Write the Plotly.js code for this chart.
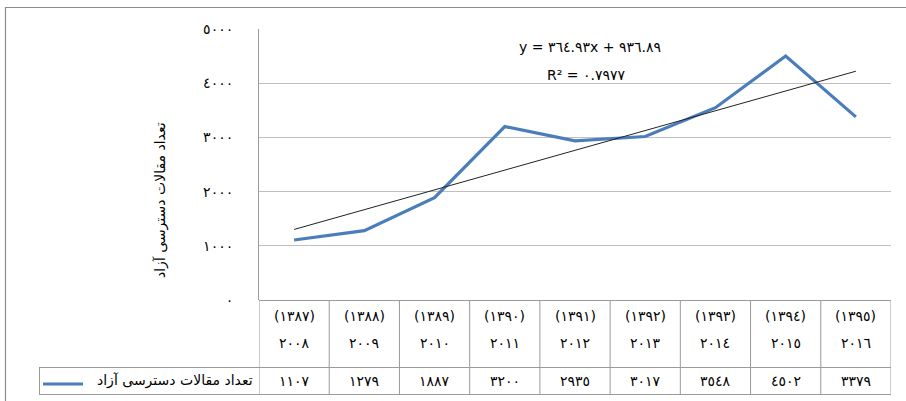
<!DOCTYPE html>
<html>
<head>
<meta charset="utf-8">
<script src="https://cdn.plot.ly/plotly-3.0.1.min.js"></script>
<style>
  html, body { margin: 0; padding: 0; background: #ffffff; }
  #chart { width: 906px; height: 401px; }
</style>
</head>
<body>
<div id="chart"></div>
<script>
// ---- data ----
var gregorianYears = ['2008', '2009', '2010', '2011', '2012', '2013', '2014', '2015', '2016'];
var persianYears = ['1387', '1388', '1389', '1390', '1391', '1392', '1393', '1394', '1395'];
var articleCounts = [1107, 1279, 1887, 3200, 2935, 3017, 3548, 4502, 3379];
var seriesName = 'تعداد مقالات دسترسی آزاد';
var yTickValues = [0, 1000, 2000, 3000, 4000, 5000];
var trendSlope = 364.93;
var trendIntercept = 936.89;
var rSquared = 0.7977;

// ---- helpers ----
function toArabicDigits(s) {
  var d = ['٠','١','٢','٣','٤','٥','٦','٧','٨','٩'];
  return String(s).replace(/[0-9]/g, function (c) { return d[+c]; });
}
var W = 906, H = 401;
var M = { l: 259, r: 15, t: 29, b: 101 };
var PW = W - M.l - M.r, PH = H - M.t - M.b;
function px(xp) { return (xp - M.l) / PW; }
function py(yp) { return (H - M.b - yp) / PH; }

var n = articleCounts.length;
var xIdx = articleCounts.map(function (_, i) { return i + 1; });

var FONT = 'DejaVu Sans, sans-serif';
var lineCol = '#4A7EBB';
var gridCol = '#bfbfbf';
var tableCol = '#9a9a9a';

var traces = [
  {
    x: xIdx, y: articleCounts, type: 'scatter', mode: 'lines',
    line: { color: lineCol, width: 3.2 }, hoverinfo: 'y', showlegend: false
  },
  {
    x: [1, n], y: [trendSlope * 1 + trendIntercept, trendSlope * n + trendIntercept],
    type: 'scatter', mode: 'lines',
    line: { color: '#222222', width: 1 }, hoverinfo: 'skip', showlegend: false
  }
];

var shapes = [];
var annotations = [];

function ann(o) {
  var base = { showarrow: false, xanchor: 'center', yanchor: 'middle',
    font: { family: FONT, size: 14, color: '#000' } };
  for (var k in o) base[k] = o[k];
  return base;
}

// outer frame
shapes.push({ type: 'rect', xref: 'paper', yref: 'paper',
  x0: px(5.5), x1: px(920), y0: py(415), y1: py(7.5),
  line: { color: '#8c8c8c', width: 1.2 }, fillcolor: 'rgba(0,0,0,0)', layer: 'below' });

// table: vertical column lines
for (var i = 0; i <= n; i++) {
  shapes.push({ type: 'line', xref: 'x', yref: 'paper',
    x0: i + 0.5, x1: i + 0.5, y0: py(300), y1: py(394.5),
    line: { color: tableCol, width: 1 } });
}
// table horizontal lines
[300.5, 367.5, 394.5].forEach(function (yy, k) {
  shapes.push({ type: 'line', xref: 'paper', yref: 'paper',
    x0: k === 0 ? px(259) : px(39), x1: px(891), y0: py(yy), y1: py(yy),
    line: { color: tableCol, width: 1 } });
});
// legend cell left border
shapes.push({ type: 'line', xref: 'paper', yref: 'paper',
  x0: px(39.5), x1: px(39.5), y0: py(367.5), y1: py(394.5),
  line: { color: tableCol, width: 1 } });
// legend line sample
shapes.push({ type: 'line', xref: 'paper', yref: 'paper',
  x0: px(43), x1: px(83), y0: py(384), y1: py(384),
  line: { color: lineCol, width: 3 } });

// table text
for (var j = 0; j < n; j++) {
  annotations.push(ann({ xref: 'x', yref: 'paper', x: j + 1, y: py(316),
    text: '(' + toArabicDigits(persianYears[j]) + ')' }));
  annotations.push(ann({ xref: 'x', yref: 'paper', x: j + 1, y: py(343),
    text: toArabicDigits(gregorianYears[j]) }));
  annotations.push(ann({ xref: 'x', yref: 'paper', x: j + 1, y: py(381),
    text: toArabicDigits(articleCounts[j]) }));
}
// legend text
annotations.push(ann({ xref: 'paper', yref: 'paper', x: px(255), y: py(380), xanchor: 'right',
  text: seriesName }));

// y-axis title
annotations.push(ann({ xref: 'paper', yref: 'paper', x: px(160), y: py(200), textangle: -90,
  text: seriesName }));

// trendline equation
annotations.push(ann({ xref: 'paper', yref: 'paper', x: px(590), y: py(47),
  text: 'y = ' + toArabicDigits(trendSlope.toFixed(2)) + 'x + ' + toArabicDigits(trendIntercept.toFixed(2)) }));
annotations.push(ann({ xref: 'paper', yref: 'paper', x: px(586), y: py(75),
  text: 'R² = ' + toArabicDigits(rSquared.toFixed(4)) }));

var layout = {
  width: W, height: H,
  margin: M,
  paper_bgcolor: '#ffffff', plot_bgcolor: '#ffffff',
  showlegend: false,
  xaxis: { range: [0.5, n + 0.5], showticklabels: false, showgrid: false, zeroline: false,
    showline: false, fixedrange: true },
  yaxis: { range: [0, 5000], tickvals: yTickValues,
    ticktext: yTickValues.map(toArabicDigits),
    showgrid: true, gridcolor: gridCol, gridwidth: 1,
    zeroline: false, showline: true, linecolor: tableCol, linewidth: 1,
    ticks: '', ticklabelstandoff: 22,
    tickfont: { family: FONT, size: 14, color: '#000' }, fixedrange: true },
  shapes: shapes,
  annotations: annotations
};

Plotly.newPlot('chart', traces, layout, { displayModeBar: false, staticPlot: true });
</script>
</body>
</html>
